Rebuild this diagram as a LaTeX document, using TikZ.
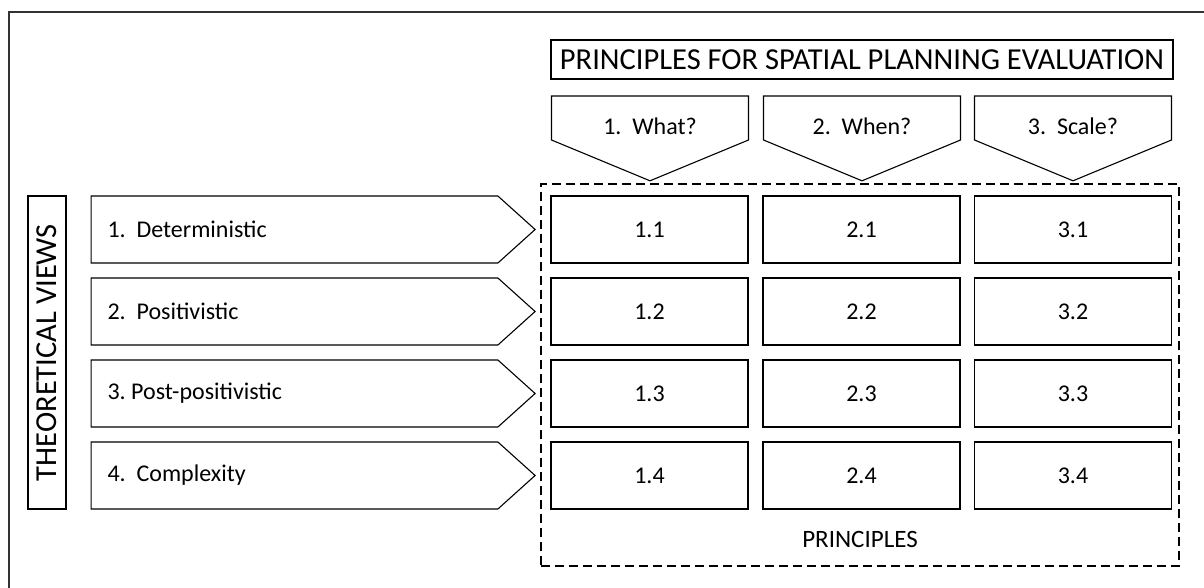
\documentclass[tikz,border=0pt]{standalone}
\usepackage{fontspec}
\setmainfont{Carlito}
\usetikzlibrary{positioning, shapes.symbols}
\tikzset{
    frameline/.style={draw=black!80, line width=1.2pt},
    cellbox/.style={rectangle, draw, line width=1.1pt, minimum width=197pt, minimum height=67pt, font=\fontsize{24}{27}\selectfont},
    viewarrow/.style={signal, signal to=east, draw, line width=1.1pt, minimum width=444pt, minimum height=67pt, signal pointer angle=84, inner sep=0pt},
    askarrow/.style={signal, signal to=south, draw, line width=1.1pt, minimum width=197pt, minimum height=44pt, signal pointer angle=135, inner sep=0pt},
    headbox/.style={rectangle, draw, line width=1.1pt, inner sep=0pt, font=\fontsize{30.5}{34}\selectfont},
    smalltext/.style={font=\fontsize{24}{27}\selectfont},
    dashbox/.style={rectangle, draw, line width=1.1pt, dash pattern=on 9pt off 5pt, minimum width=638pt, minimum height=382pt}
}
\begin{document}
\begin{tikzpicture}[x=1pt, y=-1pt]
    \useasboundingbox (0,0) rectangle (1204,587);
    % outer frame, only top and left edges visible
    \draw[frameline] (9,600) -- (9,12) -- (1220,12);

    % heading
    \node[headbox, minimum width=622pt, minimum height=39pt] (title) at (862,59.5) {PRINCIPLES FOR SPATIAL PLANNING EVALUATION};
    \node[askarrow] (what) at (650,118) {};
    \node[askarrow] (when) at (862,118) {};
    \node[askarrow] (scale) at (1073,118) {};
    \node[smalltext] (whattext) at (650,126) {1.\ \ What?};
    \node[smalltext] (whentext) at (862,126) {2.\ \ When?};
    \node[smalltext] (scaletext) at (1073,126) {3.\ \ Scale?};

    % principles
    \node[dashbox] (principles) at (860,375) {};
    \node[font=\fontsize{25}{28}\selectfont] (plabel) at (860,539) {PRINCIPLES};
    \node[cellbox] (c11) at (649.5,229.5) {1.1};
    \node[cellbox] (c21) at (861.5,229.5) {2.1};
    \node[cellbox] (c31) at (1073,229.5) {3.1};
    \node[cellbox] (c12) at (649.5,311.5) {1.2};
    \node[cellbox] (c22) at (861.5,311.5) {2.2};
    \node[cellbox] (c32) at (1073,311.5) {3.2};
    \node[cellbox] (c13) at (649.5,393.5) {1.3};
    \node[cellbox] (c23) at (861.5,393.5) {2.3};
    \node[cellbox] (c33) at (1073,393.5) {3.3};
    \node[cellbox] (c14) at (649.5,475.5) {1.4};
    \node[cellbox] (c24) at (861.5,475.5) {2.4};
    \node[cellbox] (c34) at (1073,475.5) {3.4};

    % theoretical views
    \node[headbox, minimum width=313pt, minimum height=38pt, rotate=90] (views) at (47,352.5) {THEORETICAL VIEWS};
    \node[viewarrow] (v1) at (294.5,229.5) {};
    \node[viewarrow] (v2) at (294.5,311.5) {};
    \node[viewarrow] (v3) at (294.5,393.5) {};
    \node[viewarrow] (v4) at (294.5,475.5) {};
    \node[smalltext, anchor=west] (v1text) at (104,229.5) {1.\ \ Deterministic};
    \node[smalltext, anchor=west] (v2text) at (104,311.5) {2.\ \ Positivistic};
    \node[smalltext, anchor=west] (v3text) at (104,393.5) {3.\ Post-positivistic};
    \node[smalltext, anchor=west] (v4text) at (104,475.5) {4.\ \ Complexity};
\end{tikzpicture}
\end{document}
